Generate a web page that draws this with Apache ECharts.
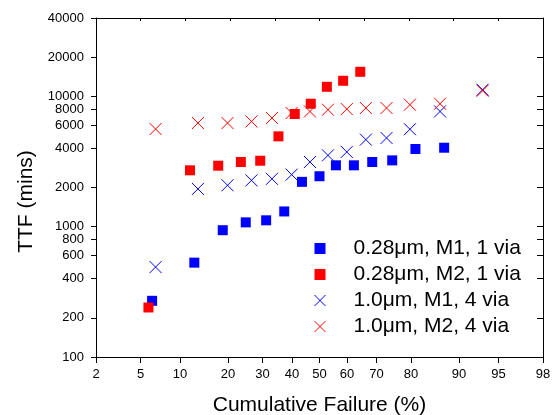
<!DOCTYPE html>
<html><head><meta charset="utf-8">
<script src="https://cdn.jsdelivr.net/npm/echarts@6/dist/echarts.min.js"></script>
<style>html,body{margin:0;padding:0;background:#fff}#c{width:554px;height:415px}</style>
</head><body><div id="c"></div>
<script>
// Tick labels
const xTicks = [2, 5, 10, 20, 30, 40, 50, 60, 70, 80, 90, 95, 98];           // cumulative failure (%)
const yTicks = [100, 200, 400, 600, 800, 1000, 2000, 4000, 6000, 8000, 10000, 20000, 40000];
const seriesNames = ['0.28\u03bcm, M1, 1 via', '0.28\u03bcm, M2, 1 via', '1.0\u03bcm, M1, 4 via', '1.0\u03bcm, M2, 4 via'];

// Series values: cumulative failure (%) and TTF (mins)
const m1_028_F   = [6.2, 12.5, 18.7, 24.9, 31.2, 37.3, 43.6, 50.0, 56.0, 62.4, 68.6, 74.8, 81.1, 87.4];
const m1_028_TTF = [270, 530, 940, 1080, 1120, 1310, 2210, 2440, 2960, 2960, 3140, 3230, 3950, 4040];
const m2_028_F   = [5.8, 11.7, 17.6, 23.5, 29.3, 35.3, 41.0, 46.8, 52.7, 58.6, 64.6];
const m2_028_TTF = [240, 2710, 2940, 3140, 3210, 4940, 7330, 8790, 11860, 13190, 15460];
const m1_10_F    = [6.6, 13.2, 19.9, 26.6, 33.1, 39.9, 46.5, 53.1, 59.9, 66.5, 73.1, 79.7, 86.6, 93.3];
const m1_10_TTF  = [490, 1950, 2080, 2270, 2330, 2510, 3140, 3530, 3750, 4660, 4800, 5600, 7670, 11250];
const m2_10_F    = [6.6, 13.2, 19.9, 26.6, 33.1, 39.9, 46.5, 53.1, 59.9, 66.5, 73.1, 79.7, 86.6, 93.3];
const m2_10_TTF  = [5620, 6250, 6250, 6430, 6830, 7460, 7670, 7910, 8000, 8150, 8150, 8640, 8790, 11060];

// inverse normal CDF (probability axis transform)
function probit(p) {
  const a=[-3.969683028665376e+01,2.209460984245205e+02,-2.759285104469687e+02,1.383577518672690e+02,-3.066479806614716e+01,2.506628277459239e+00];
  const b=[-5.447609879822406e+01,1.615858368580409e+02,-1.556989798598866e+02,6.680131188771972e+01,-1.328068155288572e+01];
  const c=[-7.784894002430293e-03,-3.223964580411365e-01,-2.400758277161838e+00,-2.549732539343734e+00,4.374664141464968e+00,2.938163982698783e+00];
  const d=[7.784695709041462e-03,3.224671290700398e-01,2.445134137142996e+00,3.754408661907416e+00];
  const plow=0.02425, phigh=1-plow; let q,r;
  if (p < plow) { q=Math.sqrt(-2*Math.log(p)); return (((((c[0]*q+c[1])*q+c[2])*q+c[3])*q+c[4])*q+c[5])/((((d[0]*q+d[1])*q+d[2])*q+d[3])*q+1); }
  if (p <= phigh) { q=p-0.5; r=q*q; return (((((a[0]*r+a[1])*r+a[2])*r+a[3])*r+a[4])*r+a[5])*q/(((((b[0]*r+b[1])*r+b[2])*r+b[3])*r+b[4])*r+1); }
  q=Math.sqrt(-2*Math.log(1-p)); return -(((((c[0]*q+c[1])*q+c[2])*q+c[3])*q+c[4])*q+c[5])/((((d[0]*q+d[1])*q+d[2])*q+d[3])*q+1);
}
const pz = f => probit(f / 100);
const xTickVals = xTicks.map(pz);
const pairs = (F, T) => F.map((f, i) => [pz(f), T[i]]);

const FONT = "'Liberation Sans', Arial, sans-serif";
const CROSS = 'path://M0,0L10,10M10,0L0,10';
const SQ = 10;

const chart = echarts.init(document.getElementById('c'), null, {renderer: 'canvas'});
chart.setOption({
  animation: false,
  backgroundColor: '#fff',
  grid: {left: 96, right: 11, top: 18, bottom: 58, containLabel: false, outerBoundsMode: 'none'},
  xAxis: [{
    type: 'value', position: 'bottom',
    min: pz(xTicks[0]), max: pz(xTicks[xTicks.length - 1]),
    name: 'Cumulative Failure (%)', nameLocation: 'middle', nameGap: 38,
    nameTextStyle: {fontFamily: FONT, fontSize: 21, color: '#000'},
    axisLine: {show: true, onZero: false, lineStyle: {color: '#000', width: 1}},
    axisTick: {show: true, inside: false, length: 6, lineStyle: {color: '#000'}, customValues: xTickVals},
    axisLabel: {show: true, customValues: xTickVals, fontFamily: FONT, fontSize: 13, color: '#000', margin: 11,
      formatter: v => { let best = xTicks[0], bd = 1e9; xTicks.forEach((t, i) => { const dd = Math.abs(xTickVals[i] - v); if (dd < bd) { bd = dd; best = t; } }); return String(best); }},
    splitLine: {show: false}
  }, {
    type: 'value', position: 'top', min: 0, max: 10, interval: 1,
    axisLine: {show: true, onZero: false, lineStyle: {color: '#000', width: 1}},
    axisTick: {show: true, inside: true, length: 3, lineStyle: {color: '#000'}},
    axisLabel: {show: false}, splitLine: {show: false}
  }],
  yAxis: [{
    type: 'log', logBase: 10, min: 100, max: 40000, position: 'left',
    name: 'TTF (mins)', nameLocation: 'middle', nameGap: 58, nameRotate: 90,
    nameTextStyle: {fontFamily: FONT, fontSize: 21, color: '#000', padding: [0, 28, 0, 0]},
    axisLine: {show: true, onZero: false, lineStyle: {color: '#000', width: 1}},
    axisTick: {show: true, inside: false, length: 5, lineStyle: {color: '#000'}, customValues: yTicks},
    axisLabel: {show: true, customValues: yTicks, fontFamily: FONT, fontSize: 13, color: '#000', margin: 12,
      formatter: v => String(Math.round(v))},
    splitLine: {show: false}, minorTick: {show: false}
  }, {
    type: 'log', logBase: 10, min: 100, max: 40000, position: 'right',
    axisLine: {show: true, onZero: false, lineStyle: {color: '#000', width: 1}},
    axisTick: {show: true, inside: true, length: 6, lineStyle: {color: '#000'}, customValues: yTicks},
    axisLabel: {show: false}, splitLine: {show: false}
  }],
  legend: {
    orient: 'vertical', left: 312, top: 238, padding: 0, itemGap: 5,
    itemWidth: 11, itemHeight: 11, selectedMode: false,
    textStyle: {fontFamily: FONT, fontSize: 21, color: '#000', lineHeight: 21, padding: [0, 0, 0, 23]},
    data: [
      {name: seriesNames[0], icon: 'rect', itemStyle: {color: '#0000ff'}},
      {name: seriesNames[1], icon: 'rect', itemStyle: {color: '#ff0000'}},
      {name: seriesNames[2], icon: CROSS, itemStyle: {color: 'none', borderColor: '#0000ff', borderWidth: 1}},
      {name: seriesNames[3], icon: CROSS, itemStyle: {color: 'none', borderColor: '#ff0000', borderWidth: 1}}
    ]
  },
  series: [
    {name: seriesNames[0], type: 'scatter', symbol: 'rect', symbolSize: SQ, itemStyle: {color: '#0000ff', opacity: 1}, data: pairs(m1_028_F, m1_028_TTF)},
    {name: seriesNames[1], type: 'scatter', symbol: 'rect', symbolSize: SQ, itemStyle: {color: '#ff0000', opacity: 1}, data: pairs(m2_028_F, m2_028_TTF)},
    {name: seriesNames[2], type: 'scatter', symbol: CROSS, symbolSize: 12, itemStyle: {color: 'none', borderColor: '#0000ff', borderWidth: 1, opacity: 1}, data: pairs(m1_10_F, m1_10_TTF)},
    {name: seriesNames[3], type: 'scatter', symbol: CROSS, symbolSize: 12, itemStyle: {color: 'none', borderColor: '#ff0000', borderWidth: 1, opacity: 1}, data: pairs(m2_10_F, m2_10_TTF)}
  ]
});
</script></body></html>
